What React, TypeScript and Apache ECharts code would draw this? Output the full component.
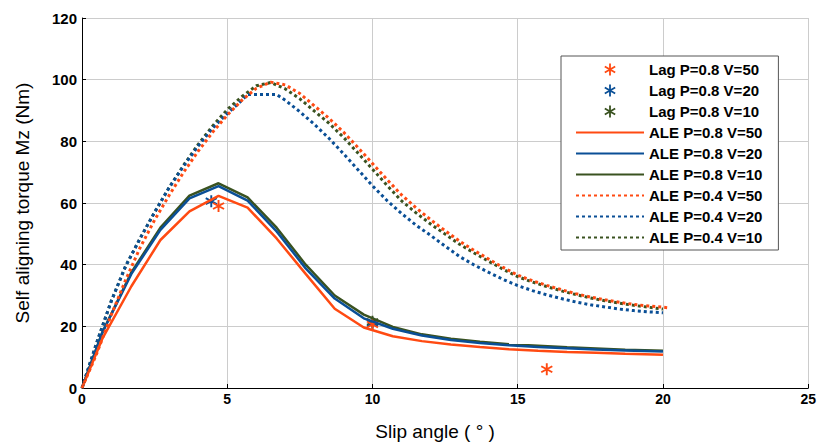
import React, { useEffect, useRef } from "react";
import * as echarts from "echarts";

// ---- data ----
const solidX = [0, 0.7, 1.7, 2.7, 3.7, 4.7, 5.7, 6.7, 7.7, 8.7, 9.7, 10.7, 11.7, 12.7, 13.7, 14.7, 15.7, 16.7, 17.7, 18.7, 19.7, 20];
const aleP08V50 = [0, 16, 33, 48, 57.3, 62.3, 58.5, 48.5, 37, 25.7, 19.6, 16.8, 15.2, 14.1, 13.3, 12.6, 12.1, 11.7, 11.4, 11.1, 10.9, 10.8];
const aleP08V20 = [0, 18, 37, 51.3, 61.5, 65.5, 60.8, 50.8, 38.8, 29, 22.6, 19.2, 17.0, 15.6, 14.6, 13.9, 13.3, 12.9, 12.5, 12.2, 11.9, 11.8];
const aleP08V10 = [0, 18, 37.5, 52, 62.4, 66.4, 61.8, 52, 40, 30, 23.8, 19.8, 17.4, 16.0, 15.0, 14.2, 13.7, 13.2, 12.8, 12.4, 12.2, 12.1];

const dotX = [0, 0.5, 1, 1.5, 2, 2.5, 3, 3.5, 4, 4.5, 5, 5.5, 6, 6.5, 7, 7.5, 8, 8.5, 9, 9.5, 10, 10.5, 11, 11.5, 12, 12.5, 13, 13.5, 14, 14.5, 15, 15.5, 16, 16.5, 17, 17.5, 18, 18.5, 19, 19.5, 20];
const aleP04V50X = [...dotX, 20.2];
const aleP04V50 = [0, 11, 23.5, 35, 45.5, 54.5, 62.5, 70, 76.8, 83, 88.5, 93.3, 97.2, 99.2, 98.3, 95.5, 91.5, 87.5, 83, 78, 72.8, 67.6, 62.6, 58.4, 54.6, 51, 47.6, 44.6, 41.8, 39.1, 36.6, 34.8, 33.3, 31.9, 30.6, 29.5, 28.6, 27.8, 27.1, 26.6, 26.2, 26.0];
const aleP04V20X = [0, 0.5, 1, 1.5, 2, 2.5, 3, 3.5, 4, 4.5, 5, 5.5, 5.7, 6.7, 7, 7.5, 8, 8.5, 9, 9.5, 10, 10.5, 11, 11.5, 12, 12.5, 13, 13.5, 14, 14.5, 15, 15.5, 16, 16.5, 17, 17.5, 18, 18.5, 19, 19.5, 20];
const aleP04V20 = [0, 14.5, 28, 39.5, 48.5, 57, 65, 72, 78.5, 84.3, 89, 93.3, 95.2, 95.2, 93.3, 89.6, 85.5, 81, 76, 70.8, 65.6, 60.8, 56.6, 52.8, 49.5, 46, 42.6, 39.9, 37.5, 35.2, 33.2, 31.6, 30.2, 29, 27.9, 27, 26.3, 25.6, 25.1, 24.7, 24.4];
const aleP04V10 = [0, 14.5, 28, 39.5, 48.5, 57, 65, 72.3, 79, 85, 90.3, 94.5, 98, 99.1, 97, 93.8, 89.8, 85.9, 81.3, 76.2, 71, 65.7, 60.7, 56.8, 53.2, 49.9, 46.6, 43.8, 41.1, 38.5, 36.1, 34.4, 32.9, 31.5, 30.3, 29.2, 28.3, 27.5, 26.8, 26.2, 25.6];

const lagP08V50: [number, number][] = [[4.7, 59.0], [10.0, 20.6], [16.0, 6.1]];
const lagP08V20: [number, number][] = [[4.45, 60.6], [10.0, 21.0]];
const lagP08V10: [number, number][] = [[10.0, 21.5]];

const legendNames = [
  "Lag P=0.8 V=50",
  "Lag P=0.8 V=20",
  "Lag P=0.8 V=10",
  "ALE P=0.8 V=50",
  "ALE P=0.8 V=20",
  "ALE P=0.8 V=10",
  "ALE P=0.4 V=50",
  "ALE P=0.4 V=20",
  "ALE P=0.4 V=10",
];

const ORANGE = "#ff4a12";
const BLUE = "#0a4f96";
const GREEN = "#3a5220";
const FONT = "'Liberation Sans', Arial, sans-serif";

const STAR =
  "path://M8.5 0L11.5 0L11.5 20L8.5 20Z M0.59 6.3L2.09 3.7L19.41 13.7L17.91 16.3Z M0.59 13.7L17.91 3.7L19.41 6.3L2.09 16.3Z";

const zip = (xs: number[], ys: number[]) => xs.map((x, i) => [x, ys[i]]);

export default function App() {
  const ref = useRef<HTMLDivElement>(null);
  useEffect(() => {
    if (!ref.current) return;
    const chart = echarts.init(ref.current, undefined, { renderer: "svg" });
    const solid = (name: string, xs: number[], ys: number[], color: string) => ({
      name,
      type: "line",
      data: zip(xs, ys),
      symbol: "none",
      lineStyle: { color, width: 2.5 },
      itemStyle: { color },
    });
    const dotted = (name: string, xs: number[], ys: number[], color: string) => ({
      name,
      type: "line",
      data: zip(xs, ys),
      symbol: "none",
      lineStyle: { color, width: 3, type: [3, 3] },
      itemStyle: { color },
    });
    const lag = (name: string, data: [number, number][], color: string) => ({
      name,
      type: "scatter",
      data,
      symbol: STAR,
      symbolSize: 12,
      itemStyle: { color, opacity: 1 },
    });
    chart.setOption({
      animation: false,
      textStyle: { fontFamily: FONT },
      grid: { left: 82, right: 9, top: 18, bottom: 50, containLabel: false },
      xAxis: {
        type: "value",
        min: 0,
        max: 25,
        interval: 5,
        name: "Slip angle ( ° )",
        nameLocation: "middle",
        nameGap: 34,
        nameTextStyle: { fontSize: 19, color: "#000", fontFamily: FONT, padding: [0, 20, 0, 0] },
        axisLine: { lineStyle: { color: "#000", width: 1 } },
        axisTick: { show: true, inside: true, length: 4, lineStyle: { color: "#000" } },
        axisLabel: { fontSize: 14, fontWeight: "bold", color: "#000", margin: 4, fontFamily: FONT },
        splitLine: { show: true, lineStyle: { color: "#cccccc", width: 1 } },
      },
      yAxis: {
        type: "value",
        min: 0,
        max: 120,
        interval: 20,
        name: "Self aligning torque Mz (Nm)",
        nameLocation: "middle",
        nameGap: 50,
        nameTextStyle: { fontSize: 19, color: "#000", fontFamily: FONT },
        axisLine: { show: true, lineStyle: { color: "#000", width: 1 } },
        axisTick: { show: true, inside: true, length: 4, lineStyle: { color: "#000" } },
        axisLabel: { fontSize: 15, fontWeight: "bold", color: "#000", margin: 5, fontFamily: FONT },
        splitLine: { show: true, lineStyle: { color: "#cccccc", width: 1 } },
      },
      legend: {
        orient: "vertical",
        left: 561,
        top: 56,
        padding: [6, 16, 5, 14],
        itemWidth: 68,
        itemHeight: 12,
        itemGap: 6,
        backgroundColor: "#fff",
        borderColor: "#555",
        borderWidth: 1,
        borderRadius: 0,
        textStyle: { fontSize: 15, fontWeight: "bold", color: "#000", fontFamily: FONT },
        data: legendNames.map((n, i) =>
          i < 3 ? { name: n } : { name: n, itemStyle: { opacity: 0 } }
        ),
      },
      series: [
        solid(legendNames[5], solidX, aleP08V10, GREEN),
        solid(legendNames[4], solidX, aleP08V20, BLUE),
        solid(legendNames[3], solidX, aleP08V50, ORANGE),
        dotted(legendNames[8], dotX, aleP04V10, GREEN),
        dotted(legendNames[7], aleP04V20X, aleP04V20, BLUE),
        dotted(legendNames[6], aleP04V50X, aleP04V50, ORANGE),
        lag(legendNames[2], lagP08V10, GREEN),
        lag(legendNames[1], lagP08V20, BLUE),
        lag(legendNames[0], lagP08V50, ORANGE),
      ],
    });
    return () => chart.dispose();
  }, []);
  return (
    <div
      ref={ref}
      style={{ position: "fixed", left: 0, top: 0, width: 819, height: 446, background: "#fff" }}
    />
  );
}
